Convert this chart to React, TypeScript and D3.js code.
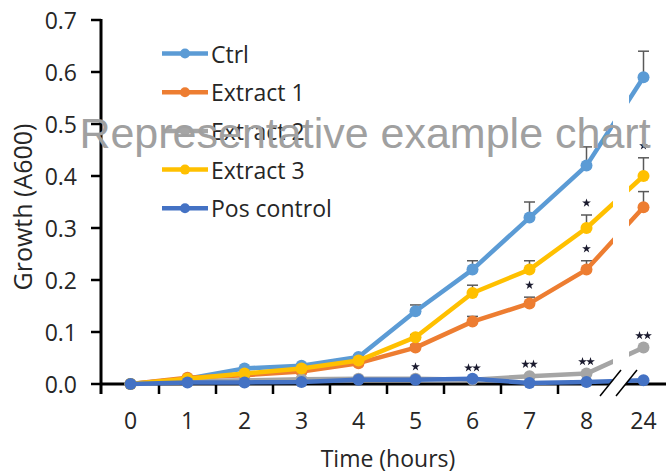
import { scaleLinear, scalePoint, line, symbol, symbolStar } from "d3";

const width = 666;
const height = 473;

const categories = ["0", "1", "2", "3", "4", "5", "6", "7", "8", "24"];
const yTicks = [0, 0.1, 0.2, 0.3, 0.4, 0.5, 0.6, 0.7];

const ctrl = [0, 0.01, 0.03, 0.035, 0.052, 0.14, 0.22, 0.32, 0.42, 0.59];
const extract1 = [0, 0.012, 0.017, 0.024, 0.04, 0.07, 0.12, 0.155, 0.22, 0.34];
const extract2 = [0, 0.005, 0.007, 0.009, 0.01, 0.01, 0.008, 0.015, 0.02, 0.07];
const extract3 = [0, 0.01, 0.02, 0.03, 0.045, 0.09, 0.175, 0.22, 0.3, 0.4];
const posControl = [0, 0.003, 0.003, 0.004, 0.008, 0.008, 0.01, 0.002, 0.004, 0.007];

const ctrlErr = [0, 0, 0, 0, 0.003, 0.012, 0.017, 0.03, 0.036, 0.05];
const extract1Err = [0, 0, 0, 0, 0, 0.005, 0.01, 0.012, 0.017, 0.03];
const extract2Err = [0, 0, 0, 0, 0, 0, 0, 0, 0, 0];
const extract3Err = [0, 0, 0, 0, 0, 0.005, 0.015, 0.017, 0.025, 0.035];
const posControlErr = [0, 0, 0, 0, 0, 0, 0, 0, 0, 0];

const seriesNames = ["Ctrl", "Extract 1", "Extract 2", "Extract 3", "Pos control"];
const seriesColors = ["#5B9BD5", "#ED7D31", "#A5A5A5", "#FFC000", "#4472C4"];

// significance marks: series index, category, number of stars
const sigSeries = [2, 2, 2, 2, 2, 1, 1, 3, 3];
const sigCats = ["5", "6", "7", "8", "24", "7", "8", "8", "24"];
const sigStars = [1, 2, 2, 2, 2, 1, 1, 1, 1];

const series = [
  { values: ctrl, err: ctrlErr },
  { values: extract1, err: extract1Err },
  { values: extract2, err: extract2Err },
  { values: extract3, err: extract3Err },
  { values: posControl, err: posControlErr },
];

const x = scalePoint<string>().domain(categories).range([102, 672]).padding(0.5);
const y = scaleLinear().domain([0, 0.7]).range([384, 20]);
const step = x.step();

const font = "'Open Sans', 'Noto Sans', sans-serif";
const textColor = "#262626";
const axisColor = "#000";

export default function App() {
  const lineGen = line<number>()
    .x((_, i) => x(categories[i]) as number)
    .y((d) => y(d));

  const breakX = ((x("8") as number) + (x("24") as number)) / 2;
  const starPath = symbol().type(symbolStar).size(24)() as string;

  return (
    <svg
      width={width}
      height={height}
      style={{ position: "absolute", left: 0, top: 0, display: "block", background: "#fff" }}
    >
      {/* y axis */}
      <line x1={101} x2={101} y1={y(0.7) - 1} y2={394} stroke={axisColor} strokeWidth={3} />
      {yTicks.map((t) => (
        <g key={t}>
          <line x1={91} x2={101} y1={y(t)} y2={y(t)} stroke={axisColor} strokeWidth={2.5} />
          <text
            x={77}
            y={y(t)}
            textAnchor="end"
            dominantBaseline="central"
            fontFamily={font}
            fontSize={23}
            fill={textColor}
          >
            {t.toFixed(1)}
          </text>
        </g>
      ))}

      {/* x axis */}
      <line x1={100} x2={width} y1={y(0)} y2={y(0)} stroke={axisColor} strokeWidth={3} />
      {categories.slice(0, -1).map((c) => (
        <line
          key={c}
          x1={(x(c) as number) + step / 2}
          x2={(x(c) as number) + step / 2}
          y1={y(0)}
          y2={y(0) + 10}
          stroke={axisColor}
          strokeWidth={2.5}
        />
      ))}
      {categories.map((c) => (
        <text
          key={c}
          x={x(c)}
          y={429}
          textAnchor="middle"
          fontFamily={font}
          fontSize={23}
          fill={textColor}
        >
          {c}
        </text>
      ))}

      {/* series */}
      {series.map((s, si) => (
        <g key={si}>
          {s.values.map((v, i) =>
            s.err[i] > 0 ? (
              <g key={i} stroke="#595959" strokeWidth={1.5}>
                <line
                  x1={x(categories[i])}
                  x2={x(categories[i])}
                  y1={y(v)}
                  y2={y(v + s.err[i])}
                />
                <line
                  x1={(x(categories[i]) as number) - 5.5}
                  x2={(x(categories[i]) as number) + 5.5}
                  y1={y(v + s.err[i])}
                  y2={y(v + s.err[i])}
                />
              </g>
            ) : null
          )}
          <path
            d={lineGen(s.values) as string}
            fill="none"
            stroke={seriesColors[si]}
            strokeWidth={4.5}
            strokeLinejoin="round"
          />
          {s.values.map((v, i) => (
            <circle key={i} cx={x(categories[i])} cy={y(v)} r={6} fill={seriesColors[si]} />
          ))}
        </g>
      ))}

      {/* significance stars */}
      {sigSeries.map((si, k) => {
        const i = categories.indexOf(sigCats[k]);
        const top = y(series[si].values[i] + series[si].err[i]) - 12;
        const cx = x(sigCats[k]) as number;
        const n = sigStars[k];
        return (
          <g key={k}>
            {Array.from({ length: n }, (_, j) => (
              <path
                key={j}
                d={starPath}
                transform={`translate(${cx + (j - (n - 1) / 2) * 8},${top})`}
                fill="#1a1a2e"
              />
            ))}
          </g>
        );
      })}

      {/* axis break */}
      <rect x={breakX - 2} y={0} width={16} height={y(0) - 12} fill="#fff" />
      <polygon
        points={`${breakX - 15},${y(0) + 12} ${breakX + 5},${y(0) - 14} ${breakX + 22},${y(0) - 14} ${breakX + 1},${y(0) + 12}`}
        fill="#fff"
      />
      <line x1={breakX - 15} y1={y(0) + 12} x2={breakX + 6} y2={y(0) - 14} stroke="#000" strokeWidth={1.5} />
      <line x1={breakX + 1} y1={y(0) + 12} x2={breakX + 22} y2={y(0) - 14} stroke="#000" strokeWidth={1.5} />

      {/* legend */}
      {seriesNames.map((name, i) => {
        const ly = 53.5 + i * 38.7;
        return (
          <g key={name}>
            <line x1={162} x2={208} y1={ly} y2={ly} stroke={seriesColors[i]} strokeWidth={4.5} />
            <circle cx={185} cy={ly} r={5} fill={seriesColors[i]} />
            <text
              x={211}
              y={ly}
              dominantBaseline="central"
              fontFamily={font}
              fontSize={23}
              fill={textColor}
            >
              {name}
            </text>
          </g>
        );
      })}

      {/* axis titles */}
      <text
        x={388}
        y={467}
        textAnchor="middle"
        fontFamily={font}
        fontSize={23}
        fill={textColor}
      >
        Time (hours)
      </text>
      <text
        transform={`translate(32,207) rotate(-90)`}
        textAnchor="middle"
        fontFamily={font}
        fontSize={25}
        fill={textColor}
      >
        Growth (A600)
      </text>

      {/* watermark */}
      <text
        x={365}
        y={148}
        textAnchor="middle"
        fontFamily="'Liberation Sans', Arial, sans-serif"
        fontSize={43}
        fill="#a0a0a0"
      >
        Representative example chart
      </text>
    </svg>
  );
}
